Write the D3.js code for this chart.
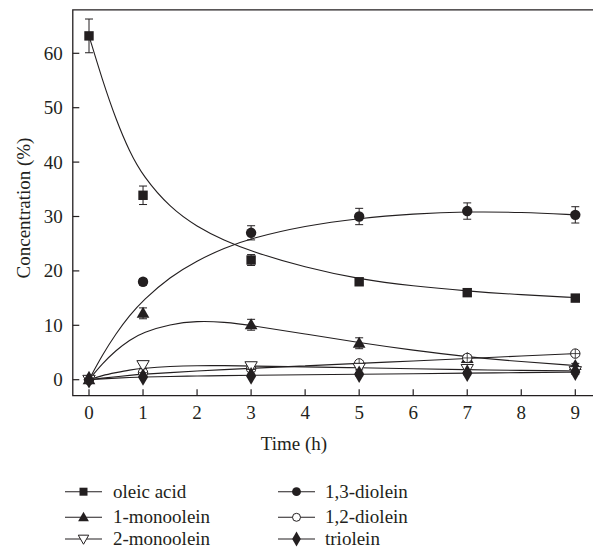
<!DOCTYPE html>
<html>
<head>
<meta charset="utf-8">
<script src="https://cdn.jsdelivr.net/npm/d3@7"></script>
<style>
  body { margin: 0; background: #fff; }
  text { font-family: "Liberation Serif", "DejaVu Serif", serif; fill: #231f20; }
</style>
</head>
<body>
<div id="graph"></div>
<script>
// temps de mesure (h)
var times = [0, 1, 3, 5, 7, 9];
var xTicks = [0, 1, 2, 3, 4, 5, 6, 7, 8, 9];
var yTicks = [0, 10, 20, 30, 40, 50, 60];

// valeurs mesurées (%)
var oleicAcid   = [63.2, 33.9, 22.0, 18.0, 16.0, 15.0];
var diolein13   = [0, 18.0, 27.0, 30.0, 31.0, 30.3];
var monoolein1  = [0, 12.2, 10.1, 6.7, 3.9, 2.6];
var monoolein2  = [0, 2.7, 2.5, 2.2, 2.0, 1.6];
var diolein12   = [0, 1.3, 2.0, 3.0, 4.0, 4.8];
var triolein    = [0, 0.5, 0.7, 1.0, 1.2, 1.4];

// barres d'erreur (%)
var oleicErr  = [3.1, 1.7, 1.0, 0.6, 0.5, 0.4];
var dio13Err  = [0.4, 0.6, 1.3, 1.5, 1.5, 1.5];
var mono1Err  = [0.3, 1.0, 1.0, 1.0, 0.5, 0.4];
var mono2Err  = [0.2, 0.6, 0.6, 0.4, 0.6, 0.3];
var dio12Err  = [0.2, 0.4, 0.4, 0.5, 0.6, 0.4];
var trioErr   = [0.2, 0.3, 0.3, 0.3, 0.3, 0.4];

// courbes ajustées
var fitTimes   = [0, 0.25, 0.5, 0.75, 1, 1.5, 2, 2.5, 3, 4, 5, 6, 7, 8, 9];
var oleicFit   = [63.2, 55.0, 47.8, 41.9, 37.4, 31.6, 28.1, 25.6, 23.6, 20.6, 18.5, 17.2, 16.3, 15.6, 15.1];
var dio13Fit   = [0, 4.6, 8.5, 11.8, 14.6, 18.9, 21.9, 24.2, 26.0, 28.3, 29.7, 30.5, 30.9, 30.8, 30.3];
var mono1Fit   = [0, 3.0, 5.4, 7.3, 8.7, 10.2, 10.8, 10.6, 10.0, 8.4, 6.8, 5.4, 4.2, 3.3, 2.6];
var mono2Fit   = [0, 0.8, 1.3, 1.8, 2.1, 2.45, 2.6, 2.6, 2.5, 2.35, 2.2, 2.0, 1.85, 1.7, 1.6];
var dio12Fit   = [0, 0.3, 0.55, 0.8, 1.0, 1.3, 1.6, 1.85, 2.1, 2.55, 3.0, 3.45, 3.9, 4.35, 4.8];
var trioFit    = [0, 0.15, 0.3, 0.42, 0.5, 0.6, 0.68, 0.74, 0.8, 0.9, 1.0, 1.1, 1.2, 1.3, 1.4];

var series = [
  { name: "oleic acid",  values: oleicAcid,  err: oleicErr, fit: oleicFit, sym: "square" },
  { name: "1,3-diolein", values: diolein13,  err: dio13Err, fit: dio13Fit, sym: "circle" },
  { name: "1-monoolein", values: monoolein1, err: mono1Err, fit: mono1Fit, sym: "triangle" },
  { name: "1,2-diolein", values: diolein12,  err: dio12Err, fit: dio12Fit, sym: "ocircle" },
  { name: "2-monoolein", values: monoolein2, err: mono2Err, fit: mono2Fit, sym: "dtriangle" },
  { name: "triolein",    values: triolein,   err: trioErr,  fit: trioFit,  sym: "diamond" }
];

var ink = "#231f20";
var width = 593, height = 548;

var svg = d3.select("#graph").append("svg")
  .attr("width", width).attr("height", height);

var x = d3.scaleLinear().domain([0, 9]).range([89, 575.3]);
var y = d3.scaleLinear().domain([0, 60]).range([379.7, 53.3]);

var x0 = x(-0.3), x1 = x(9.8), yTop = y(68), yBot = y(-2.94);

// cadre
svg.append("path")
  .attr("d", "M" + x1 + "," + yTop + "H" + x0 + "V" + yBot + "H" + x1)
  .attr("fill", "none").attr("stroke", ink).attr("stroke-width", 1.3);

// graduations (vers l'intérieur)
svg.selectAll(".xt").data(xTicks).enter().append("line")
  .attr("x1", function(d) { return x(d); }).attr("x2", function(d) { return x(d); })
  .attr("y1", yBot).attr("y2", yBot - 6.5)
  .attr("stroke", ink).attr("stroke-width", 1.2);
svg.selectAll(".xl").data(xTicks).enter().append("text")
  .attr("x", function(d) { return x(d); }).attr("y", yBot + 23)
  .attr("text-anchor", "middle").attr("font-size", 19)
  .text(function(d) { return d; });

svg.selectAll(".yt").data(yTicks).enter().append("line")
  .attr("x1", x0).attr("x2", x0 + 6.5)
  .attr("y1", function(d) { return y(d); }).attr("y2", function(d) { return y(d); })
  .attr("stroke", ink).attr("stroke-width", 1.2);
svg.selectAll(".yl").data(yTicks).enter().append("text")
  .attr("x", x0 - 10).attr("y", function(d) { return y(d) + 6.5; })
  .attr("text-anchor", "end").attr("font-size", 19)
  .text(function(d) { return d; });

svg.append("text")
  .attr("transform", "translate(30,208) rotate(-90)")
  .attr("text-anchor", "middle").attr("font-size", 19)
  .text("Concentration (%)");
svg.append("text")
  .attr("x", 294).attr("y", 450)
  .attr("text-anchor", "middle").attr("font-size", 19)
  .text("Time (h)");

// courbes
var line = d3.line()
  .x(function(d) { return x(d[0]); })
  .y(function(d) { return y(d[1]); })
  .curve(d3.curveBasis);

series.forEach(function(s) {
  svg.append("path")
    .datum(d3.zip(fitTimes, s.fit))
    .attr("fill", "none").attr("stroke", ink).attr("stroke-width", 1.1)
    .attr("d", line);
});

// symboles
function drawSymbol(g, type, cx, cy, scale) {
  scale = scale || 1;
  if (type === "square") {
    g.append("rect").attr("x", cx - 4.7 * scale).attr("y", cy - 4.7 * scale)
      .attr("width", 9.4 * scale).attr("height", 9.4 * scale).attr("fill", ink);
  } else if (type === "circle") {
    g.append("circle").attr("cx", cx).attr("cy", cy).attr("r", 5.2 * scale).attr("fill", ink);
  } else if (type === "ocircle") {
    g.append("circle").attr("cx", cx).attr("cy", cy).attr("r", 4.7 * scale)
      .attr("fill", "#fff").attr("stroke", ink).attr("stroke-width", 1);
  } else if (type === "triangle") {
    g.append("path").attr("transform", "translate(" + cx + "," + (cy + 0.8) + ")")
      .attr("d", d3.symbol().type(d3.symbolTriangle).size(70 * scale * scale)()).attr("fill", ink);
  } else if (type === "dtriangle") {
    g.append("path").attr("transform", "translate(" + cx + "," + (cy - 0.8) + ") rotate(180)")
      .attr("d", d3.symbol().type(d3.symbolTriangle).size(66 * scale * scale)())
      .attr("fill", "#fff").attr("stroke", ink).attr("stroke-width", 1);
  } else if (type === "diamond") {
    g.append("path").attr("transform", "translate(" + cx + "," + cy + ")")
      .attr("d", d3.symbol().type(d3.symbolDiamond).size(90 * scale * scale)()).attr("fill", ink);
  }
}

series.forEach(function(s) {
  var g = svg.append("g");
  times.forEach(function(t, i) {
    var cx = x(t), v = s.values[i], e = s.err[i];
    // barre d'erreur
    g.append("path")
      .attr("d", "M" + cx + "," + y(v + e) + "V" + y(v - e) +
                 "M" + (cx - 4) + "," + y(v + e) + "H" + (cx + 4) +
                 "M" + (cx - 4) + "," + y(v - e) + "H" + (cx + 4))
      .attr("fill", "none").attr("stroke", ink).attr("stroke-width", 1);
    drawSymbol(g, s.sym, cx, y(v));
    if (s.sym === "ocircle") {
      g.append("path")
        .attr("d", "M" + (cx - 4.7) + "," + y(v) + "H" + (cx + 4.7) +
                   "M" + cx + "," + (y(v) - 4.7) + "V" + (y(v) + 4.7))
        .attr("stroke", ink).attr("stroke-width", 0.8);
    }
  });
});

// légende
var legendRows = [491.7, 517.3, 539];
var legendCols = [{ x1: 65, x2: 102, tx: 113 }, { x1: 278, x2: 315, tx: 325 }];
var legendOrder = [
  ["oleic acid", 0, 0], ["1,3-diolein", 1, 0],
  ["1-monoolein", 0, 1], ["1,2-diolein", 1, 1],
  ["2-monoolein", 0, 2], ["triolein", 1, 2]
];
legendOrder.forEach(function(l) {
  var s = series.find(function(d) { return d.name === l[0]; });
  var c = legendCols[l[1]], ly = legendRows[l[2]];
  var g = svg.append("g");
  g.append("line").attr("x1", c.x1).attr("x2", c.x2).attr("y1", ly).attr("y2", ly)
    .attr("stroke", ink).attr("stroke-width", 1.1);
  drawSymbol(g, s.sym, (c.x1 + c.x2) / 2, ly, 0.85);
  g.append("text").attr("x", c.tx).attr("y", ly + 6).attr("font-size", 19).text(s.name);
});
</script>
</body>
</html>
